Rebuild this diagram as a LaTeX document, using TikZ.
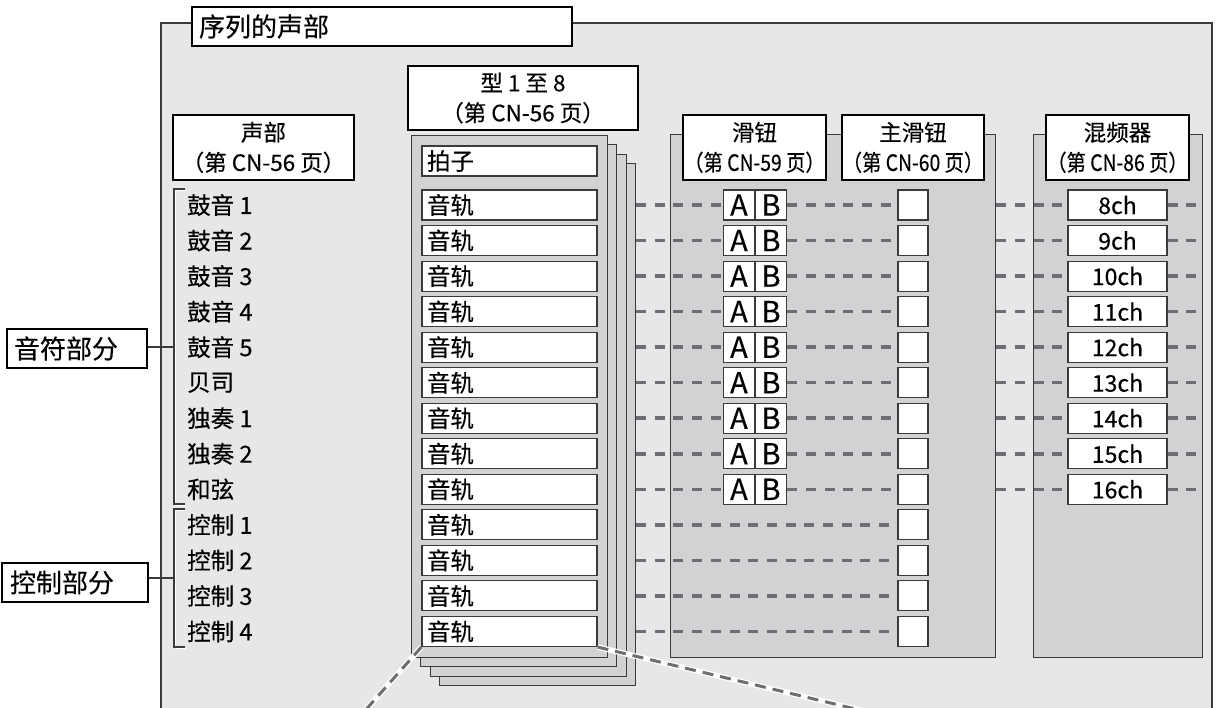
\documentclass[tikz,border=0pt]{standalone}
\usepackage{fontspec}
\setmainfont{Noto Sans CJK SC}[FakeBold=0.35]
\usetikzlibrary{calc}
\definecolor{cBack}{HTML}{E6E7E8}
\definecolor{cPanel}{HTML}{D1D2D4}
\definecolor{cEdge}{HTML}{3A3A3A}
\definecolor{cDash}{HTML}{6D6E71}
\newcommand{\pgref}[1]{（第 CN-#1 页）}
\newcommand{\pgnarrow}[1]{\scalebox{0.86}[1]{\pgref{#1}}}

\begin{document}
\begin{tikzpicture}[
    x=1pt, y=-1pt,
    hdr/.style={draw=black, line width=1.6pt, fill=white, inner sep=0pt,
                align=center, font=\fontsize{22.5}{30}\selectfont},
    lblbox/.style={draw=black, line width=1.6pt, fill=white, inner xsep=7pt,
                   inner ysep=0pt, minimum height=39, align=left,
                   font=\fontsize{26}{28}\selectfont},
    page/.style={draw=cEdge, line width=1.1pt, fill=cPanel, inner sep=0pt,
                 minimum width=196, minimum height=522, anchor=north west},
    panel/.style={draw=cEdge, line width=1.1pt, fill=cPanel, inner sep=0pt,
                  minimum height=523, anchor=north west},
    trk/.style={draw=cEdge, line width=1.1pt, fill=white, minimum height=30,
                text width=165, inner xsep=5pt, inner ysep=0pt, align=left,
                font=\fontsize{23.5}{24}\selectfont},
    voice/.style={anchor=west, inner sep=0pt, font=\fontsize{23.5}{24}\selectfont},
    ab/.style={draw=cEdge, line width=1.1pt, fill=white, minimum width=31,
               minimum height=30, inner sep=0pt, font=\fontsize{29}{30}\selectfont},
    sq/.style={draw=cEdge, line width=1.1pt, fill=white, minimum size=30, inner sep=0pt},
    chbox/.style={draw=cEdge, line width=1.1pt, fill=white, minimum width=99,
                  minimum height=30, inner sep=0pt, font=\fontsize{23}{24}\selectfont},
    dashln/.style={draw=cDash, line width=3.5pt, dash pattern=on 10 off 8.7},
    zoomln/.style={draw=cDash, line width=3pt, dash pattern=on 11 off 7,
                   preaction={draw=white, line width=5.5pt, solid}},
    brk/.style={draw=cEdge, line width=1.3pt},
]
\clip (0,0) rectangle (1221,708);
\fill[white] (0,0) rectangle (1221,708);

% ===================== Fondo del bloque =====================
\fill[cBack] (161,23) rectangle (1212,720);
\draw[cEdge, line width=1.5pt] (161,720) -- (161,23) -- (1212,23) -- (1212,720);
\node[lblbox, minimum width=380, text width=366, inner xsep=5pt] (title) at (382,26.5)
      {序列的声部};

% ===================== Paneles =====================
\node[panel, minimum width=325] (slide) at (670,134) {};
\node[panel, minimum width=169] (mix) at (1033,134) {};

% ===================== Pila de patrones =====================
\foreach \k in {3,2,1}{
    \node[page] (pg\k) at (411+9.3*\k,135+9.3*\k) {};
}
\node[page] (pg0) at (411,135) {};
\node[trk] (beat) at (509.5,161) {拍子};
\foreach \k in {0,...,12}{
    \node[trk] (trk\k) at (509.5,205+35.54*\k) {音轨};
}

% ===================== Cabeceras =====================
\node[hdr, minimum width=181, minimum height=65] (vhdr) at (263.5,147.5)
      {声部\\\pgref{56}};
\node[hdr, minimum width=230, minimum height=64] (pat) at (523,98)
      {型 1 至 8\\\pgref{56}};
\node[hdr, minimum width=143, minimum height=65] (sld) at (754.5,147.5)
      {滑钮\\\pgnarrow{59}};
\node[hdr, minimum width=142, minimum height=65] (msl) at (913,147.5)
      {主滑钮\\\pgnarrow{60}};
\node[hdr, minimum width=143, minimum height=65] (mxr) at (1117.5,147.5)
      {混频器\\\pgnarrow{86}};

% ===================== Partes =====================
\foreach \k/\t in {0/鼓音 1, 1/鼓音 2, 2/鼓音 3, 3/鼓音 4, 4/鼓音 5, 5/贝司,
                   6/独奏 1, 7/独奏 2, 8/和弦, 9/控制 1, 10/控制 2, 11/控制 3,
                   12/控制 4}{
    \node[voice] (v\k) at (187,205+35.54*\k) {\t};
}

% ===================== Corchetes =====================
\coordinate (brkA) at (174,347);
\coordinate (brkB) at (174,578);
\foreach \dx/\dy/\c/\w in {1.4/-1.4/white/1.3pt, 0/0/cEdge/1.3pt}{
    \draw[line width=\w, draw=\c, xshift=\dx, yshift=\dy]
        (185,189) -- (174,189) -- (174,504) -- (185,504);
    \draw[line width=\w, draw=\c, xshift=\dx, yshift=\dy]
        (185,509) -- (174,509) -- (174,647) -- (185,647);
}
\node[lblbox, minimum width=140, text width=126] (note) at (77,348.5) {音符部分};
\node[lblbox, minimum width=144, text width=130, inner xsep=8pt] (ctrl) at (75,582.5) {控制部分};
\draw[brk] (note.east |- brkA) -- (brkA);
\draw[brk] (ctrl.east |- brkB) -- (brkB);

% ===================== Enlaces =====================
\foreach \k in {0,...,12}{
    \node[sq] (m\k) at (913,205+35.54*\k) {};
}
\foreach \k in {0,...,8}{
    \pgfmathtruncatemacro\n{\k+8}
    \node[ab, anchor=east] (a\k) at (755,205+35.54*\k) {A};
    \node[ab, anchor=west] (b\k) at (755,205+35.54*\k) {B};
    \node[chbox] (ch\k) at (1117.5,205+35.54*\k) {\n ch};
    \coordinate (e\k) at ($(mix.east |- ch\k.center)+(-7,0)$);
    \draw[dashln] (pg3.east |- a\k.west) -- (a\k.west);
    \draw[dashln] (b\k.east) -- (m\k.west);
    \draw[dashln] (slide.east |- ch\k.west) -- (ch\k.west);
    \draw[dashln] (ch\k.east) -- (e\k);
}
\foreach \k in {9,...,12}{
    \draw[dashln] (pg3.east |- m\k.west) -- (m\k.west);
}

% ===================== Lineas de detalle =====================
\coordinate (zl) at (362,714);
\coordinate (zr) at (868,712);
\draw[zoomln] (trk12.south west) -- (zl);
\draw[zoomln] (trk12.south east) -- (zr);

\end{tikzpicture}
\end{document}
